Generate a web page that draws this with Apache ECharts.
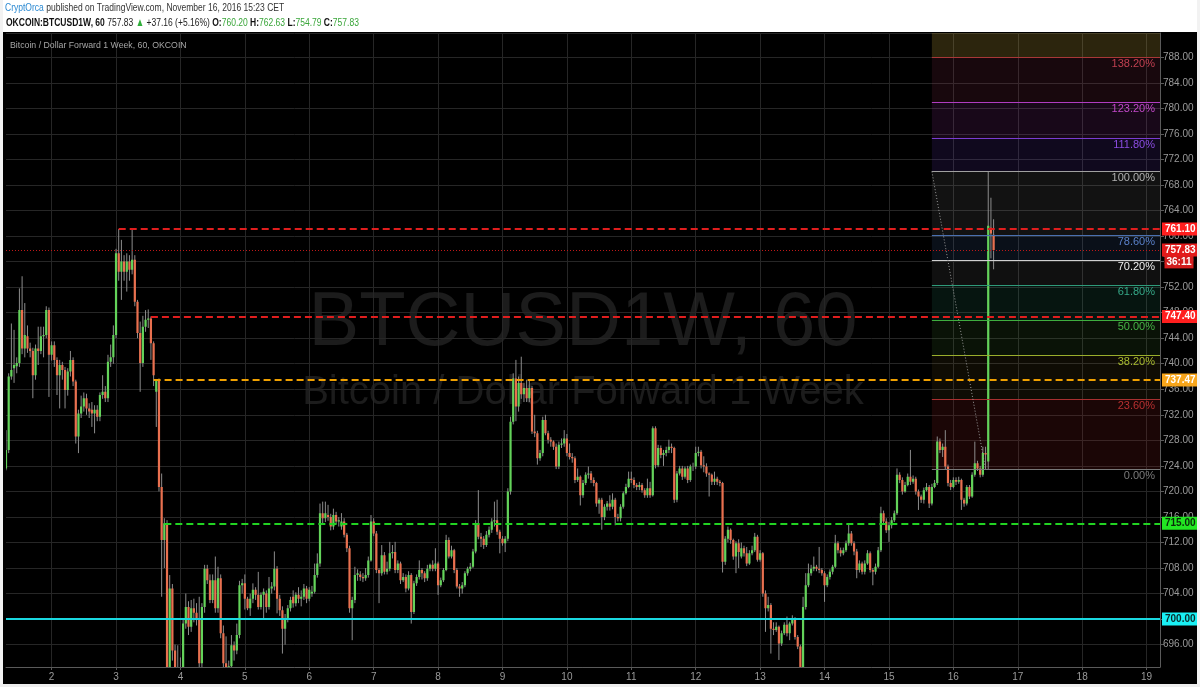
<!DOCTYPE html>
<html><head><meta charset="utf-8">
<script src="https://cdn.jsdelivr.net/npm/echarts/dist/echarts.min.js"></script>
<style>html,body{margin:0;padding:0;background:#fff}#c{width:1200px;height:687px}</style>
</head><body><div id="c"></div><script>
// ---------- categories (hourly bars) ----------
const startHourUTC = Date.UTC(2016, 10, 1, 7);
const categoryCount = 431;
const categories = [];
for (let k = 0; k < categoryCount; k++) {
  const d = new Date(startHourUTC + k * 3600000);
  categories.push(d.toISOString().slice(0, 13).replace('T', ' ') + ':00');
}
// ---------- candles [open, close, low, high] ----------
const candles = [
[723.6,726.5,723.3,729.6],[726.5,738.0,726.0,738.5],[738.0,739.0,737.5,746.3],[739.3,739.8,737.0,745.3],[739.6,740.1,738.5,741.0],
[740.1,748.4,739.5,751.8],[748.4,742.4,741.5,753.7],[742.4,744.5,741.0,749.5],[744.3,742.4,741.7,746.0],[742.4,742.0,741.0,743.3],
[742.0,738.2,734.6,742.5],[738.2,742.4,737.5,743.0],[742.4,742.0,739.8,745.8],[742.0,744.3,741.5,745.8],[744.3,744.5,741.0,745.8],
[744.5,748.4,744.0,749.0],[748.4,741.4,734.8,748.8],[741.4,742.9,740.5,743.5],[742.9,740.6,739.5,743.5],[740.6,738.2,735.1,741.0],
[738.2,739.8,733.0,740.6],[739.8,739.0,737.5,740.3],[739.0,735.9,733.0,739.5],[735.9,738.8,735.0,739.3],[738.8,740.6,738.0,742.0],
[740.6,737.2,736.5,741.0],[737.2,728.6,727.5,737.5],[728.6,732.2,726.0,732.8],[732.2,733.3,731.5,735.0],[733.3,734.6,732.5,735.5],
[734.6,733.0,732.0,735.3],[733.0,732.5,731.5,733.8],[732.8,732.2,730.1,734.0],[732.2,732.8,729.1,733.5],[732.8,731.7,731.0,733.5],
[731.7,735.1,731.0,735.5],[735.1,735.6,734.5,738.2],[735.6,734.6,734.0,736.5],[734.6,740.3,734.0,741.4],[740.3,741.0,739.5,743.0],
[741.0,744.5,740.0,746.0],[744.5,757.3,744.0,758.0],[757.3,754.4,753.0,761.1],[754.4,756.0,750.0,759.4],[756.0,754.4,753.0,757.0],
[754.4,756.0,751.3,757.3],[756.0,754.7,753.0,757.0],[754.7,756.3,754.0,761.0],[756.3,749.7,749.0,757.0],[749.7,744.8,744.0,750.0],
[744.8,740.1,735.6,746.6],[740.1,745.8,739.5,747.5],[745.8,746.9,745.0,748.4],[746.9,747.1,745.6,748.5],[747.1,743.2,740.6,747.4],
[743.2,738.2,736.5,743.5],[735.6,737.5,730.1,737.5],[737.5,720.7,720.0,737.7],[720.7,712.4,703.5,722.8],[712.4,715.0,708.0,715.8],
[715.0,690.0,688.0,715.5],[690.0,704.8,689.0,706.9],[704.8,695.1,693.5,705.5],[695.1,690.5,688.0,696.0],[690.5,691.5,688.0,695.9],
[691.5,692.5,689.0,694.0],[692.5,699.3,691.0,700.0],[699.3,701.9,698.5,704.0],[701.9,698.8,697.5,702.8],[698.8,701.7,698.0,703.0],
[701.7,701.0,699.5,703.2],[701.0,700.1,699.0,702.5],[700.1,693.1,692.5,703.5],[693.1,701.9,692.5,702.5],[701.9,707.9,701.0,708.5],
[707.9,706.1,705.5,708.5],[706.1,703.0,702.5,707.0],[703.0,706.1,702.5,707.0],[706.1,701.7,701.0,709.8],[701.7,706.4,701.0,708.2],
[706.4,697.8,697.0,707.0],[697.8,693.1,692.0,699.0],[693.1,692.4,691.0,697.3],[692.4,692.6,691.5,693.5],[692.6,695.9,692.0,697.5],
[695.9,695.1,693.5,696.5],[695.1,697.5,694.5,699.3],[697.5,705.3,697.0,706.0],[705.3,705.6,704.0,706.3],[705.6,703.2,701.5,707.0],
[703.2,701.7,701.4,703.5],[701.7,703.2,700.5,704.0],[703.2,704.6,702.5,705.6],[704.6,703.8,703.0,705.0],[703.8,701.9,701.5,707.4],
[701.9,703.8,701.5,704.2],[703.8,704.3,700.1,704.8],[704.0,701.9,701.0,704.5],[701.9,704.8,701.5,706.6],[704.8,705.1,704.0,705.8],
[705.1,707.9,704.5,710.6],[707.9,703.2,700.9,708.3],[703.2,701.4,700.5,703.8],[701.4,698.5,694.6,702.0],[698.5,700.1,696.0,700.8],
[700.1,701.7,699.5,702.2],[701.7,703.0,701.2,703.5],[703.5,702.5,701.8,704.5],[702.5,703.8,702.0,704.2],[703.8,703.2,702.5,705.0],
[703.2,703.5,702.0,704.5],[703.5,704.8,703.0,705.5],[704.8,703.2,702.5,705.2],[703.2,704.6,702.8,705.0],[704.0,704.3,703.5,705.2],
[704.3,706.9,704.0,708.7],[706.9,708.7,706.5,710.3],[708.7,716.6,708.2,718.1],[716.6,715.8,715.0,718.4],[715.8,716.6,715.2,718.4],
[716.3,716.0,715.4,717.9],[716.0,714.5,713.9,716.5],[714.5,716.3,714.0,717.3],[716.3,715.3,714.8,716.8],[715.3,715.5,714.5,716.0],
[714.5,715.3,714.0,716.6],[715.3,713.2,712.8,715.8],[713.2,711.1,710.5,713.5],[711.1,701.7,701.0,711.5],[701.7,703.0,696.7,703.5],
[703.0,706.9,702.5,708.2],[706.9,707.2,706.0,707.8],[707.0,706.6,706.0,707.5],[706.6,706.4,705.8,707.2],[706.4,706.9,706.0,708.0],
[706.9,709.2,706.5,709.8],[709.2,715.3,709.0,716.3],[715.3,713.4,713.0,715.8],[713.4,707.7,707.2,713.8],[707.7,707.2,702.5,708.0],
[707.2,710.0,706.8,711.6],[710.0,707.4,707.0,710.5],[707.4,707.9,707.0,709.0],[707.9,710.3,707.5,712.1],[710.3,710.5,709.5,711.6],
[710.5,707.7,707.2,712.1],[707.7,708.7,707.2,709.2],[708.7,706.1,705.5,709.0],[706.1,706.6,705.8,707.2],[706.6,704.8,704.2,707.0],
[704.8,706.9,704.5,707.5],[706.9,701.1,699.3,707.2],[701.1,705.6,700.8,706.0],[705.6,706.6,705.2,707.0],[706.6,707.7,706.2,709.2],
[707.7,707.2,706.2,708.0],[707.2,706.4,705.8,707.5],[706.4,707.9,706.0,708.5],[707.9,708.5,707.5,708.7],[708.5,707.9,707.5,709.2],
[707.9,708.7,707.5,711.1],[708.7,705.3,703.8,709.0],[705.3,706.1,705.0,706.5],[706.1,707.7,705.8,708.0],[707.7,712.4,707.5,713.2],
[712.4,709.8,709.5,712.8],[709.8,710.8,709.5,711.5],[710.8,707.7,707.2,711.0],[707.7,705.1,704.8,708.0],[705.1,704.8,703.5,705.5],
[704.8,705.3,704.0,705.8],[705.3,707.2,705.0,707.5],[707.2,707.9,706.8,708.2],[707.9,708.2,707.5,708.8],[708.2,710.6,708.0,711.0],
[710.6,715.0,710.3,715.5],[715.0,712.9,712.5,720.2],[712.9,712.6,711.3,713.5],[712.6,711.6,711.0,713.0],[711.6,713.2,711.3,713.8],
[713.2,714.0,712.8,714.5],[714.0,715.3,713.5,715.8],[715.3,715.5,714.5,718.4],[715.5,713.7,713.2,718.7],[713.7,712.6,710.3,714.0],
[712.6,711.9,711.5,713.0],[711.9,712.6,710.5,713.0],[712.6,720.0,712.2,720.5],[720.0,730.9,719.5,731.7],[730.9,737.7,730.5,738.5],
[737.7,733.3,731.0,740.6],[733.3,737.0,732.5,738.0],[737.0,735.2,734.5,741.1],[735.2,736.2,734.0,737.0],[736.2,734.6,734.0,737.5],
[734.6,736.2,734.0,737.5],[736.2,729.4,729.0,736.5],[729.4,729.1,728.5,732.0],[729.1,725.2,724.2,729.5],[725.2,726.0,724.8,726.5],
[726.0,731.2,725.5,731.7],[731.2,729.1,728.8,732.0],[729.1,728.1,727.5,729.5],[728.1,727.8,727.0,728.5],[727.8,727.0,726.5,728.0],
[727.0,723.9,723.5,727.5],[723.9,727.3,723.5,727.8],[727.3,727.5,726.8,728.3],[727.5,728.3,727.0,729.6],[728.3,726.0,725.5,729.0],
[726.0,725.4,725.0,727.5],[725.4,725.2,724.5,726.0],[725.2,721.8,721.3,725.5],[721.8,722.3,721.5,723.6],[722.3,719.4,717.8,722.5],
[719.4,721.3,719.0,721.8],[721.3,722.6,721.0,723.0],[722.6,722.8,722.0,723.9],[722.8,721.8,721.3,723.2],[721.8,721.3,720.8,722.2],
[721.3,718.1,717.6,721.5],[718.1,718.7,716.5,719.0],[718.7,716.0,714.0,719.0],[716.0,717.6,715.5,718.0],[717.6,718.1,717.0,718.5],
[718.1,717.6,717.0,719.4],[717.6,718.7,717.2,719.7],[718.7,716.0,714.7,719.0],[716.0,715.8,715.3,716.5],[715.8,717.6,715.3,718.0],
[717.6,719.7,717.3,720.0],[719.7,720.7,719.5,721.2],[720.7,722.0,720.5,723.1],[722.0,721.8,721.3,723.1],[721.8,721.0,720.5,722.2],
[721.0,720.7,720.2,721.3],[720.7,721.0,720.2,721.5],[721.0,720.2,719.8,721.3],[720.2,719.4,719.0,720.5],[719.4,720.5,719.0,722.0],
[720.5,719.4,719.0,721.5],[719.4,729.9,719.2,730.2],[729.9,724.1,723.6,730.2],[724.1,726.8,723.8,727.3],[726.8,725.7,725.2,727.2],
[725.7,726.0,724.0,726.5],[726.0,726.5,725.5,727.0],[726.5,727.0,726.0,728.1],[727.0,726.8,726.0,727.5],[726.8,718.7,718.2,727.0],
[718.7,722.8,718.3,723.2],[722.8,723.6,722.5,724.0],[723.6,722.3,721.8,724.0],[722.3,723.6,722.0,723.9],[723.6,721.8,721.3,724.0],
[721.8,723.9,721.5,724.2],[723.9,723.9,723.2,724.5],[723.9,726.0,723.5,727.0],[726.0,726.2,725.5,727.0],[726.2,724.1,723.6,726.5],
[724.1,723.9,723.0,725.5],[723.9,722.8,722.3,724.4],[722.8,722.6,719.2,723.0],[722.6,721.5,721.0,722.8],[721.5,722.0,721.0,723.1],
[722.0,721.5,721.0,722.3],[721.5,721.3,720.8,721.8],[721.3,709.0,707.3,721.5],[709.0,712.6,708.5,713.0],[712.6,714.0,712.0,714.5],
[714.0,712.4,711.8,714.2],[712.4,709.8,709.3,712.6],[709.8,711.9,707.2,712.2],[711.9,710.5,708.0,712.5],[709.8,711.1,709.5,712.0],
[711.1,710.3,709.8,711.5],[710.3,708.7,708.3,711.3],[708.7,710.3,708.5,710.8],[710.3,710.8,710.0,711.5],[710.8,712.9,710.5,713.5],
[712.9,709.3,709.0,713.2],[709.3,710.3,709.0,710.8],[710.3,704.0,703.5,710.5],[704.0,701.7,698.0,704.5],[701.7,702.2,701.2,703.5],
[702.2,698.5,694.6,702.5],[698.5,698.3,697.5,699.5],[698.3,698.8,698.0,699.5],[698.8,696.2,693.6,699.0],[696.2,697.8,695.8,698.2],
[697.8,699.1,697.5,699.5],[699.1,697.8,697.3,700.4],[697.8,699.3,696.7,699.6],[699.3,700.1,699.0,700.6],[700.1,697.2,696.8,700.3],
[697.2,695.7,695.3,697.5],[695.7,690.5,689.0,696.0],[690.5,701.9,690.0,703.5],[701.9,705.3,701.5,707.2],[705.3,707.2,705.0,708.7],
[707.2,707.9,706.8,708.5],[707.9,708.2,707.5,709.8],[708.2,707.9,707.5,708.5],[707.9,707.7,707.2,711.3],[707.7,707.2,706.8,708.0],
[707.2,705.3,702.7,707.5],[705.3,706.6,705.0,707.0],[706.6,707.4,706.2,707.8],[707.4,708.2,707.0,708.5],[708.2,711.9,708.0,713.2],
[711.9,710.8,710.3,712.2],[710.8,710.3,709.8,711.2],[710.3,710.8,710.0,711.2],[710.8,711.9,710.5,712.3],[711.9,713.4,711.5,715.0],
[713.4,711.9,711.5,713.8],[711.9,710.6,710.0,712.2],[710.6,707.7,706.4,711.0],[707.7,708.7,707.3,709.2],[708.7,707.4,707.0,709.0],
[707.4,708.7,707.0,709.2],[708.7,710.3,708.5,710.8],[710.3,707.7,707.3,710.6],[707.7,707.4,705.3,708.0],[707.4,708.2,707.0,708.7],
[708.2,710.8,708.0,711.3],[710.8,716.6,710.5,717.6],[716.6,715.3,714.8,717.0],[715.3,713.9,713.5,715.8],[713.9,714.7,712.1,715.2],
[714.7,715.5,714.2,716.0],[715.5,716.6,715.2,717.0],[716.6,722.6,716.3,723.6],[722.6,721.8,721.3,723.0],[721.8,720.0,719.5,722.2],
[720.0,721.0,719.8,721.5],[721.0,722.3,720.8,722.8],[722.3,721.5,721.0,726.5],[721.5,722.0,721.2,722.5],[722.0,720.0,719.5,722.3],
[720.0,719.2,717.1,720.3],[719.2,718.7,718.2,719.5],[718.7,720.2,718.1,720.6],[720.2,720.7,720.0,721.3],[720.7,718.1,717.4,721.0],
[718.1,720.7,717.8,721.2],[720.7,721.3,720.5,721.8],[721.3,727.8,721.0,728.6],[727.8,726.5,726.0,728.3],[726.5,727.0,725.4,727.5],
[727.0,723.9,723.5,729.6],[723.9,721.3,720.8,724.2],[721.3,720.7,720.2,721.8],[720.7,721.8,720.5,722.2],[721.8,721.5,721.0,722.2],
[721.5,721.8,721.2,722.3],[721.8,718.7,717.1,722.0],[718.7,718.1,717.6,719.0],[718.1,720.7,717.8,721.0],[720.7,719.2,718.8,721.0],
[719.2,722.6,719.0,723.0],[722.6,724.4,722.3,727.8],[724.4,723.6,723.2,724.8],[723.6,722.6,722.2,724.0],[722.6,726.0,722.3,727.0],
[726.0,725.8,723.46,727.0],[724.7,761.6,723.5,770.1],[761.3,760.4,756.5,766.0],[760.2,757.83,754.79,762.63]
];
// ---------- horizontal levels ----------
const levelValues = [761.10, 757.83, 747.40, 737.47, 715.00, 700.00];
const levelLabels = ['761.10', '757.83', '747.40', '737.47', '715.00', '700.00'];
const levelStartBar = [42, 0, 54, 55, 59, 0];
const countdownLabel = '36:11';
// ---------- fibonacci retracement ----------
const fibValues = [723.46, 734.47, 741.28, 746.78, 752.29, 756.21, 760.13, 770.11, 775.27, 780.93, 787.93, 798.94];
const fibLabels = ['0.00%', '23.60%', '38.20%', '50.00%', '61.80%', '70.20%', '78.60%', '100.00%', '111.80%', '123.20%', '138.20%'];
const fibStartBar = 345;
const fibTrendFrom = [345, 770.11];
const fibTrendTo = [365, 723.46];
// ---------- y ticks ----------
const yMin = 692.5, yMax = 791.8, yStep = 4;

// ---------- styles ----------
const levelStyles = [
  {color: '#e01e1e', type: [7, 4], width: 2, bg: '#ff1e1e', fg: '#ffffff'},
  {color: '#c01818', type: [1, 2], width: 1, bg: '#e31b1b', fg: '#ffffff'},
  {color: '#e01e1e', type: [7, 4], width: 2, bg: '#ff1e1e', fg: '#ffffff'},
  {color: '#f0a000', type: [7, 4], width: 2, bg: '#f7a51b', fg: '#ffffff'},
  {color: '#22d322', type: [7, 4], width: 2, bg: '#22e622', fg: '#0a2a0a'},
  {color: '#1ad8e0', type: 'solid', width: 2, bg: '#19f0f4', fg: '#0a2a2a'}
];
const fibLineColors = ['#787878', '#a83030', '#9aae2c', '#3fae3f', '#2f9a7a', '#d0d0d0', '#4a70b0', '#a0a0a0', '#7a3cd0', '#b03cc0', '#a83838'];
const fibTextColors = ['#7a7a7a', '#b83030', '#a8bb30', '#46b446', '#36a888', '#eeeeee', '#5a80c8', '#b0b0b0', '#8a4ce0', '#c048c8', '#c04050'];
const fibBandColors = ['rgba(170,40,40,0.16)', 'rgba(150,120,40,0.10)', 'rgba(80,160,60,0.12)', 'rgba(40,150,110,0.14)',
  'rgba(150,150,150,0.11)', 'rgba(70,110,180,0.14)', 'rgba(150,150,150,0.12)', 'rgba(110,60,200,0.15)',
  'rgba(170,60,180,0.14)', 'rgba(170,60,90,0.14)', 'rgba(200,170,60,0.22)'];
const FONT = 'Liberation Sans, Arial, sans-serif';
const NARROW = 'Liberation Sans Narrow, Arial Narrow, Liberation Sans, Arial, sans-serif';

const lastBar = categoryCount - 1;
const bodies = candles.map(c => [c[0], c[1], Math.min(c[0], c[1]), Math.max(c[0], c[1])]);

const levelLines = levelValues.map((v, k) => [
  {coord: [levelStartBar[k], v], lineStyle: {color: levelStyles[k].color, type: levelStyles[k].type, width: levelStyles[k].width},
   label: {show: true, position: 'end', distance: 2, formatter: levelLabels[k], backgroundColor: levelStyles[k].bg,
           color: levelStyles[k].fg, fontSize: 10, fontWeight: 'bold', fontFamily: FONT, padding: [2, 3, 1, 3]}},
  {coord: [lastBar, v]}
]);
const fibLines = fibLabels.map((t, k) => [
  {coord: [fibStartBar, fibValues[k]], lineStyle: {color: fibLineColors[k], type: 'solid', width: 1},
   label: {show: true, position: 'insideEndBottom', distance: 1, padding: [0, 4, 0, 0], formatter: t, color: fibTextColors[k], fontSize: 11, fontFamily: FONT}},
  {coord: [lastBar, fibValues[k]]}
]);
const trendLine = [[
  {coord: fibTrendFrom, lineStyle: {color: '#9a9a9a', type: [1, 2], width: 1}, label: {show: false}},
  {coord: fibTrendTo}
]];
const fibAreas = fibBandColors.map((c, k) => [
  {coord: [fibStartBar, fibValues[k]], itemStyle: {color: c}},
  {coord: [lastBar, Math.min(fibValues[k + 1], yMax)]}
]);

const chart = echarts.init(document.getElementById('c'), null, {renderer: 'canvas'});
const option = {
  backgroundColor: '#000000',
  animation: false,
  grid: {left: 6, right: 40, top: 33, bottom: 20, containLabel: false},
  xAxis: {
    type: 'category', data: categories, boundaryGap: false,
    axisLine: {lineStyle: {color: '#5a5a5a'}},
    axisTick: {show: true, length: 3, lineStyle: {color: '#5a5a5a'}, interval: (i, v) => v.slice(11) === '00:00'},
    axisLabel: {color: '#9a9a9a', fontSize: 10, fontFamily: NARROW, margin: 5,
                interval: (i, v) => v.slice(11) === '00:00', formatter: v => String(parseInt(v.slice(8, 10), 10))},
    splitLine: {show: true, lineStyle: {color: '#262626', width: 1}, interval: (i, v) => v.slice(11) === '00:00'}
  },
  yAxis: {
    type: 'value', position: 'right', min: yMin, max: yMax, minInterval: yStep, maxInterval: yStep, splitNumber: 25, scale: true,
    axisLine: {show: true, lineStyle: {color: '#5a5a5a'}},
    axisTick: {show: true, length: 4, lineStyle: {color: '#5a5a5a'}},
    axisLabel: {color: '#9a9a9a', fontSize: 10, fontFamily: NARROW, margin: 3, showMinLabel: false, showMaxLabel: false,
                formatter: v => v.toFixed(2)},
    splitLine: {show: true, lineStyle: {color: '#262626', width: 1}}
  },
  graphic: [
    {type: 'rect', shape: {x: 0, y: 0, width: 1200, height: 32}, style: {fill: '#ffffff'}, z: 100},
    {type: 'rect', shape: {x: 0, y: 0, width: 3, height: 687}, style: {fill: '#f2f2f2'}, z: 100},
    {type: 'rect', shape: {x: 1197, y: 0, width: 3, height: 687}, style: {fill: '#f2f2f2'}, z: 100},
    {type: 'rect', shape: {x: 0, y: 684, width: 1200, height: 3}, style: {fill: '#eeeeee'}, z: 100},
    {type: 'text', x: 5, y: 8, z: 101, scaleX: 0.74, style: {
      text: '{a|CryptOrca} {b|published on TradingView.com, November 16, 2016 15:23 CET}', verticalAlign: 'middle',
      rich: {a: {fill: '#2c8ad2', fontSize: 11.5, fontFamily: FONT}, b: {fill: '#333333', fontSize: 11.5, fontFamily: FONT}}}},
    {type: 'text', x: 6, y: 23, z: 101, scaleX: 0.74, style: {
      text: '{k|OKCOIN:BTCUSD1W, 60} {n|757.83}{u| ▲}{n| +37.16 (+5.16%) }{k|O:}{g|760.20}{k| H:}{g|762.63}{k| L:}{g|754.79}{k| C:}{g|757.83}',
      verticalAlign: 'middle',
      rich: {k: {fill: '#111111', fontSize: 11.5, fontWeight: 'bold', fontFamily: FONT},
             n: {fill: '#222222', fontSize: 11.5, fontFamily: FONT},
             u: {fill: '#2fae3a', fontSize: 11.5, fontFamily: FONT},
             g: {fill: '#3aa63a', fontSize: 11.5, fontFamily: FONT}}}},
    {type: 'text', x: 10, y: 45, z: 5, scaleX: 0.92, style: {text: 'Bitcoin / Dollar Forward 1 Week, 60, OKCOIN', fill: '#a6a6a6',
      fontSize: 9.5, fontFamily: FONT, verticalAlign: 'middle'}},
    {type: 'text', x: 583, y: 324, z: -1, style: {text: 'BTCUSD1W, 60', fill: '#1c1c1c', fontSize: 76, fontFamily: FONT,
      align: 'center', verticalAlign: 'middle'}},
    {type: 'text', x: 583, y: 393, z: -1, style: {text: 'Bitcoin / Dollar Forward 1 Week', fill: '#1c1c1c', fontSize: 40, fontFamily: FONT,
      align: 'center', verticalAlign: 'middle'}}
  ],
  series: [
    {
      name: 'wicks', type: 'candlestick', data: candles.map(c => [c[0], c[1], c[2], c[3]]),
      large: true, largeThreshold: 10, clip: true,
      itemStyle: {color: '#8c8c8c', color0: '#8c8c8c', borderColor: '#8c8c8c', borderColor0: '#8c8c8c', borderWidth: 1},
      markArea: {silent: true, z: 1, data: fibAreas}
    },
    {
      name: 'bodies', type: 'candlestick', data: bodies,
      large: true, largeThreshold: 10, clip: true,
      itemStyle: {color: '#63d35a', color0: '#e9704f', borderColor: '#63d35a', borderColor0: '#e9704f', borderWidth: 2.2},
      markLine: {silent: true, symbol: ['none', 'none'], data: fibLines.concat(trendLine).concat(levelLines)},
      markPoint: {silent: true, data: [{
        coord: [lastBar, levelValues[1]], symbol: 'rect', symbolSize: [29, 13], symbolOffset: [19, 12],
        itemStyle: {color: '#d21c1c'},
        label: {show: true, position: 'inside', formatter: countdownLabel, color: '#ffffff', fontSize: 10, fontWeight: 'bold', fontFamily: FONT}
      }]}
    }
  ]
};
chart.setOption(option);
</script></body></html>
